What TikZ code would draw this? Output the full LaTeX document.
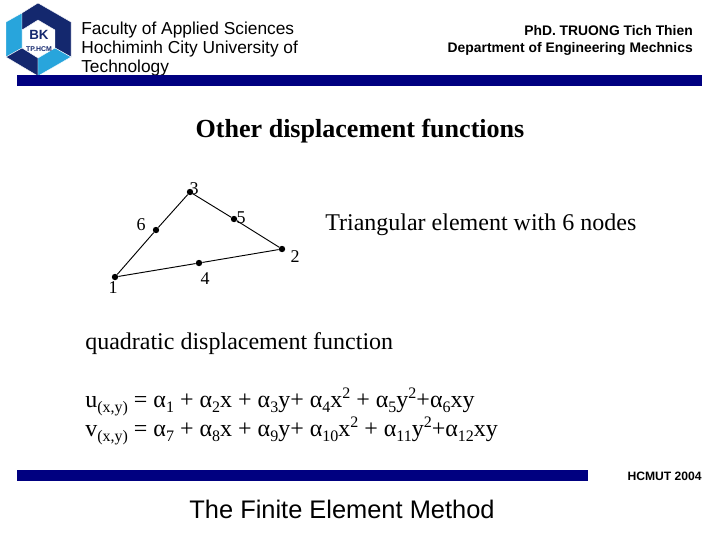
\documentclass[tikz,border=0pt]{standalone}
\usepackage{fontspec}
\setmainfont{Liberation Serif}
\setsansfont{Liberation Sans}
\usepackage{tikz}
\usetikzlibrary{positioning}
\definecolor{barblue}{RGB}{0,0,128}
\definecolor{logodark}{RGB}{20,40,110}
\definecolor{logolight}{RGB}{40,165,220}
\newcommand{\lowr}[1]{\raisebox{-4.4pt}{\fontsize{12}{12}\selectfont #1}}
\newcommand{\al}[1]{α\lowr{#1}}
\newcommand{\pw}{\raisebox{6.6pt}{\fontsize{12}{12}\selectfont 2}}
\begin{document}
\begin{tikzpicture}[
  x=0.75pt, y=-0.75pt,
  head/.style={font=\sffamily\fontsize{13}{14.25}\selectfont, inner sep=0pt},
  bar/.style={fill=barblue, draw=none, minimum height=8.25pt, inner sep=0pt},
  body/.style={font=\fontsize{18}{20}\selectfont, inner sep=0pt, anchor=base west},
  dot/.style={circle, fill=black, minimum size=4.8pt, inner sep=0pt},
  num/.style={font=\fontsize{13.5}{14}\selectfont, inner sep=0pt},
  edge/.style={draw=black, line width=0.7pt},
  piece/.style={draw=white, line width=0.3pt}
]
\useasboundingbox (0,0) rectangle (720,540);
% logo
\fill[logolight, piece] (6,22) -- (22,13) -- (22,32) -- (22,48) -- (6,57) -- cycle;
\fill[logodark, piece] (22,13) -- (38,3) -- (71,22) -- (71,57) -- (55,48) -- (55,30) -- (38,20) -- (22,30) -- cycle;
\fill[logodark, piece] (6,57) -- (22,48) -- (38,58) -- (38,76) -- cycle;
\fill[logolight, piece] (38,76) -- (38,58) -- (55,48) -- (71,57) -- cycle;
\node[font=\sffamily\bfseries\fontsize{10}{10}\selectfont, text=logodark, inner sep=0pt] (bk) at (39,35) {BK};
\node[font=\sffamily\bfseries\fontsize{5.2}{6}\selectfont, text=logodark, inner sep=0pt] (tp) at (39,49) {TP.HCM};
% header
\node[head, align=left, anchor=north west] (faculty) at (81,22)
  {Faculty of Applied Sciences\\Hochiminh City University of\\Technology};
\node[head, font=\sffamily\bfseries\fontsize{10.4}{12.75}\selectfont, align=right, anchor=north east] (teacher) at (693,25)
  {PhD. TRUONG Tich Thien\\Department of Engineering Mechnics};
\node[bar, minimum width=513.75pt, anchor=north west] (topbar) at (17,75) {};
\node[font=\bfseries\fontsize{19.55}{20}\selectfont, inner sep=0pt, anchor=base] (title) at (360,137) {Other displacement functions};
% element
\node[dot] (n1) at (115,277) {};
\node[dot] (n2) at (282,249) {};
\node[dot] (n3) at (190,192) {};
\node[dot] (n4) at (199,263) {};
\node[dot] (n5) at (234,219) {};
\node[dot] (n6) at (156,230) {};
\draw[edge] (n1) -- (n4);
\draw[edge] (n4) -- (n2);
\draw[edge] (n2) -- (n5);
\draw[edge] (n5) -- (n3);
\draw[edge] (n3) -- (n6);
\draw[edge] (n6) -- (n1);
\node[num] (l1) at (113,288) {1};
\node[num] (l2) at (295,257) {2};
\node[num] (l3) at (194,189) {3};
\node[num] (l4) at (205,279) {4};
\node[num] (l5) at (241,218) {5};
\node[num] (l6) at (141,225) {6};
\node[body] (caption) at (325,230) {Triangular element with 6 nodes};
\node[body] (quad) at (85,349) {quadratic displacement function};
\node[body] (equ) at (85,407) {u\lowr{(x,y)} = \al{1} + \al{2}x + \al{3}y+ \al{4}x\pw{} + \al{5}y\pw{}+\al{6}xy};
\node[body] (eqv) at (85,436) {v\lowr{(x,y)} = \al{7} + \al{8}x + \al{9}y+ \al{10}x\pw{} + \al{11}y\pw{}+\al{12}xy};
% footer
\node[bar, minimum width=428.25pt, anchor=north west] (botbar) at (17,470) {};
\node[font=\sffamily\bfseries\fontsize{9.1}{10}\selectfont, inner sep=0pt, anchor=east] (year) at (702,476) {HCMUT 2004};
\node[font=\sffamily\fontsize{19.06}{20}\selectfont, inner sep=0pt] (method) at (342,509) {The Finite Element Method};
\end{tikzpicture}
\end{document}
